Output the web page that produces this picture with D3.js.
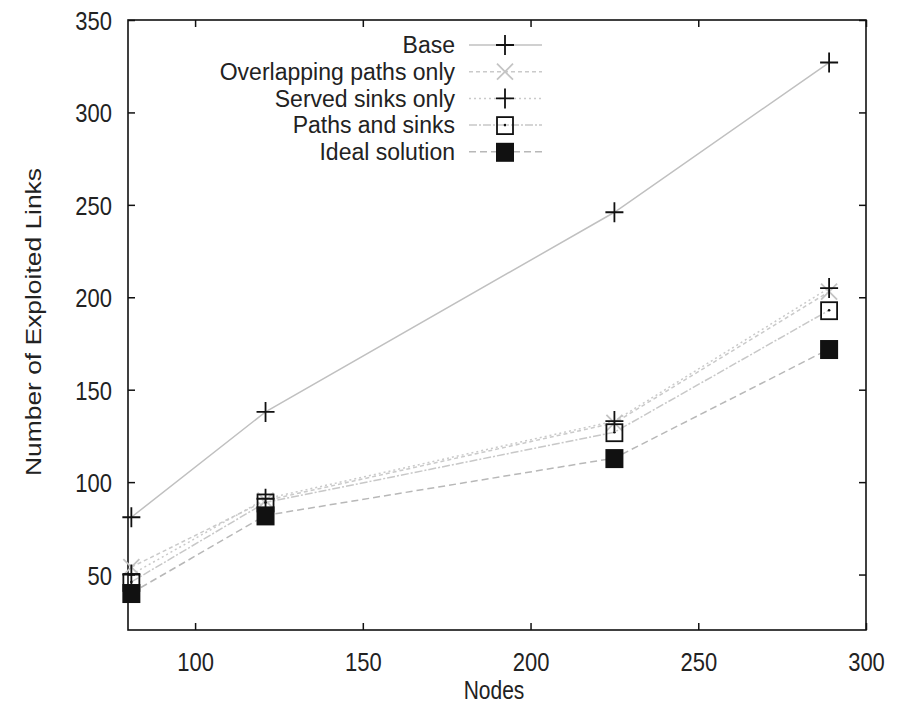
<!DOCTYPE html>
<html>
<head>
<meta charset="utf-8">
<script src="https://cdn.jsdelivr.net/npm/d3@7"></script>
<style>
  body { margin: 0; background: #fff; }
  text { font-family: "Liberation Sans", Arial, sans-serif; fill: #222; }
</style>
</head>
<body>
<div id="chart"></div>
<script>
const nodes = [81, 121, 225, 289]
const base = [81, 138, 246, 327]
const overlapping = [54, 90, 132, 203]
const servedSinks = [50, 91, 133, 205]
const pathsAndSinks = [46, 89, 127, 193]
const ideal = [40, 82, 113, 172]
const seriesNames = ["Base", "Overlapping paths only", "Served sinks only", "Paths and sinks", "Ideal solution"]
const xTicks = [100, 150, 200, 250, 300]
const yTicks = [50, 100, 150, 200, 250, 300, 350]

const MARGIN = {TOP: 20, BOTTOM: 80, LEFT: 128, RIGHT: 38}
const WIDTH = 904 - MARGIN.LEFT - MARGIN.RIGHT
const HEIGHT = 710 - MARGIN.TOP - MARGIN.BOTTOM
const STRETCH = 1.2 // text in the original looks taller than wide

const root = d3.select("#chart")
  .append("svg")
    .attr("width", 904)
    .attr("height", 710)
const svg = root.append("g")
    .attr("transform", `translate(${MARGIN.LEFT}, ${MARGIN.TOP})`)

const x = d3.scaleLinear().domain([80, 300]).range([0, WIDTH])
const y = d3.scaleLinear().domain([20, 350]).range([HEIGHT, 0])

const series = [
  {name: seriesNames[0], values: base, stroke: "#c0c0c0", dash: null, marker: "plus"},
  {name: seriesNames[1], values: overlapping, stroke: "#cacaca", dash: "4,3", marker: "cross"},
  {name: seriesNames[2], values: servedSinks, stroke: "#cacaca", dash: "2,3", marker: "plus"},
  {name: seriesNames[3], values: pathsAndSinks, stroke: "#c8c8c8", dash: "8,2,2,2", marker: "box"},
  {name: seriesNames[4], values: ideal, stroke: "#b8b8b8", dash: "7,4", marker: "filled"}
]

function drawMarker(g, type, cx, cy) {
  if (type === "plus") {
    g.append("path")
      .attr("d", `M${cx - 9},${cy}H${cx + 9}M${cx},${cy - 10}V${cy + 10}`)
      .attr("stroke", "#111").attr("stroke-width", 1.8).attr("fill", "none")
  } else if (type === "cross") {
    g.append("path")
      .attr("d", `M${cx - 8},${cy - 8}L${cx + 8},${cy + 8}M${cx - 8},${cy + 8}L${cx + 8},${cy - 8}`)
      .attr("stroke", "#c4c4c4").attr("stroke-width", 1.8).attr("fill", "none")
  } else if (type === "box") {
    g.append("rect")
      .attr("x", cx - 8).attr("y", cy - 8).attr("width", 16).attr("height", 17)
      .attr("stroke", "#111").attr("stroke-width", 1.8).attr("fill", "none")
    g.append("circle").attr("cx", cx).attr("cy", cy).attr("r", 1.3).attr("fill", "#111")
  } else {
    g.append("rect")
      .attr("x", cx - 9).attr("y", cy - 9).attr("width", 18).attr("height", 19)
      .attr("fill", "#111")
  }
}

// axes, ticks pointing inward
const leftAxis = svg.append("g")
  .call(d3.axisLeft(y).tickValues(yTicks).tickSize(-7).tickPadding(16))
const rightAxis = svg.append("g")
  .attr("transform", `translate(${WIDTH}, 0)`)
  .call(d3.axisRight(y).tickValues(yTicks).tickSize(-7).tickFormat(""))
const bottomAxis = svg.append("g")
  .attr("transform", `translate(0, ${HEIGHT})`)
  .call(d3.axisBottom(x).tickValues(xTicks).tickSize(-7).tickPadding(14))
const topAxis = svg.append("g")
  .call(d3.axisTop(x).tickValues(xTicks).tickSize(-7).tickFormat(""))

;[leftAxis, rightAxis, bottomAxis, topAxis].forEach(a => {
  a.select(".domain").remove()
  a.selectAll(".tick line").attr("stroke", "#111").attr("stroke-width", 1.5)
  a.selectAll("text").attr("font-size", 22).attr("fill", "#222")
    .style("font-family", '"Liberation Sans", Arial, sans-serif')
    .attr("transform", `scale(1, ${STRETCH})`)
})
leftAxis.selectAll("text").attr("dy", "0.36em")
bottomAxis.selectAll("text").attr("dy", "0.9em")

svg.append("rect")
  .attr("width", WIDTH).attr("height", HEIGHT)
  .attr("fill", "none").attr("stroke", "#111").attr("stroke-width", 1.6)

const line = d3.line().x(d => x(d[0])).y(d => y(d[1]))
const plot = svg.append("g")
series.forEach(s => {
  plot.append("path")
    .datum(nodes.map((n, i) => [n, s.values[i]]))
    .attr("d", line)
    .attr("fill", "none")
    .attr("stroke", s.stroke)
    .attr("stroke-width", 1.5)
    .attr("stroke-dasharray", s.dash)
})
series.forEach(s => {
  nodes.forEach((n, i) => drawMarker(plot, s.marker, x(n), y(s.values[i])))
})

// legend (absolute coordinates) - rows are tight, so no vertical stretch here
const legend = root.append("g")
series.forEach((s, i) => {
  const ly = 45 + i * 26.7
  legend.append("text")
    .attr("x", 455)
    .attr("y", ly)
    .attr("dy", "0.36em")
    .attr("text-anchor", "end")
    .attr("font-size", 23)
    .text(s.name)
  legend.append("line")
    .attr("x1", 469).attr("x2", 542)
    .attr("y1", ly).attr("y2", ly)
    .attr("stroke", s.stroke).attr("stroke-width", 1.5)
    .attr("stroke-dasharray", s.dash)
  drawMarker(legend, s.marker, 505, ly)
})

root.append("text")
  .attr("transform", `translate(494, 690) scale(1, ${STRETCH})`)
  .attr("dy", "0.36em")
  .attr("text-anchor", "middle")
  .attr("font-size", 21)
  .text("Nodes")

root.append("text")
  .attr("transform", `translate(33, 322) scale(1, ${STRETCH}) rotate(-90)`)
  .attr("dy", "0.36em")
  .attr("text-anchor", "middle")
  .attr("font-size", 22)
  .text("Number of Exploited Links")
</script>
</body>
</html>
